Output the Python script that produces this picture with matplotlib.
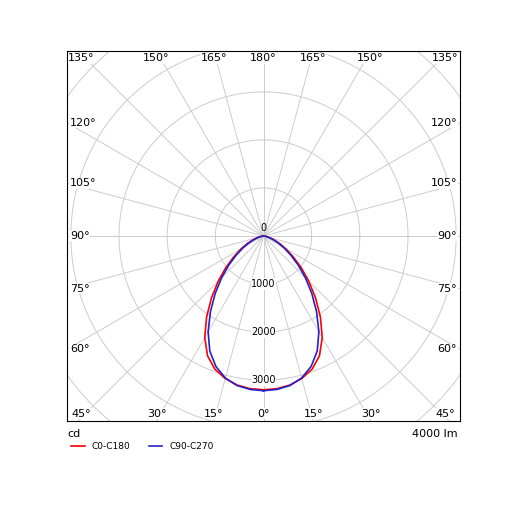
import numpy as np
import matplotlib
matplotlib.use("Agg")
import matplotlib.pyplot as plt

angles = [0, 5, 10, 15, 20, 25, 30, 35, 40, 45, 50, 55, 60, 65, 70, 75, 80, 85, 90]
c0_c180 = [3200, 3190, 3150, 3070, 2950, 2750, 2440, 2060, 1680, 1330, 1020, 750, 540, 370, 230, 130, 65, 20, 0]
c90_c270 = [3220, 3205, 3160, 3060, 2890, 2640, 2300, 1920, 1560, 1230, 940, 690, 490, 330, 200, 115, 55, 15, 0]
ring_labels = [1000, 2000, 3000]
angle_labels = ["0°", "15°", "30°", "45°", "60°", "75°", "90°", "105°", "120°", "135°", "150°", "165°", "180°"]

fig = plt.figure(figsize=(5.15, 5.15), dpi=100)
ax = fig.add_axes([67/515, 94/515, 393/515, 370/515])
XL, YL = 4080, 3850
ax.set_xlim(-XL, XL); ax.set_ylim(-YL, YL)
ax.set_aspect('auto')
ax.set_xticks([]); ax.set_yticks([])
for s in ax.spines.values():
    s.set_linewidth(0.8)

t = np.linspace(0, 2*np.pi, 400)
for r in range(1000, 7000, 1000):
    ax.plot(r*np.cos(t), r*np.sin(t), color='#cccccc', lw=0.7, zorder=1)
for a in range(0, 360, 15):
    th = np.radians(a)
    ax.plot([0, 8000*np.sin(th)], [0, -8000*np.cos(th)], color='#cccccc', lw=0.7, zorder=1)

def xy(ang, r):
    th = np.radians(np.asarray(ang, float))
    return np.asarray(r)*np.sin(th), -np.asarray(r)*np.cos(th)

for vals, col, lab in [(c0_c180, 'red', 'C0-C180'), (c90_c270, '#2222cc', 'C90-C270')]:
    a = np.array(angles + [-x for x in angles[::-1]])
    r = np.array(vals + vals[::-1])
    x, y = xy(a, r)
    ax.plot(x, y, color=col, lw=1.2, zorder=3, label=lab, solid_joinstyle='round')

ax.text(0, 60, "0", fontsize=7, ha='center', va='bottom', zorder=4)
for r in ring_labels:
    ax.text(0, -r, str(r), fontsize=7, ha='center', va='center', zorder=4,
            bbox=dict(facecolor='white', edgecolor='none', pad=0.5))

for i, lab in enumerate(angle_labels):
    a = 15*i
    th = np.radians(a)
    dx, dy = np.sin(th), -np.cos(th)
    for sgn in ([1] if a in (0, 180) else [1, -1]):
        ddx = dx*sgn
        s = min(XL/abs(ddx) if abs(ddx) > 1e-9 else 1e9, YL/abs(dy) if abs(dy) > 1e-9 else 1e9)
        x, y = ddx*s, dy*s
        if abs(abs(y) - YL) < 1:
            y = y - np.sign(y)*150
            if abs(x) > XL - 500:
                x = np.sign(x)*(XL - 300)
            ax.text(x, y, lab, fontsize=8, ha='center', va='center', zorder=4,
                    bbox=dict(facecolor='white', edgecolor='none', pad=0.3))
        else:
            ha = 'left' if x < 0 else 'right'
            x = x - np.sign(x)*60
            ax.text(x, y, lab, fontsize=8, ha=ha, va='center', zorder=4,
                    bbox=dict(facecolor='white', edgecolor='none', pad=0.3))

fig.text(67/515, 1-434/515, "cd", fontsize=8, ha='left', va='center')
fig.text(458/515, 1-434/515, "4000 lm", fontsize=8, ha='right', va='center')
ax.legend(loc='upper left', bbox_to_anchor=(-0.01, -0.035), ncol=2, frameon=False,
          fontsize=6.5, handlelength=1.5, columnspacing=2)
fig.savefig("out.png", dpi=100)
